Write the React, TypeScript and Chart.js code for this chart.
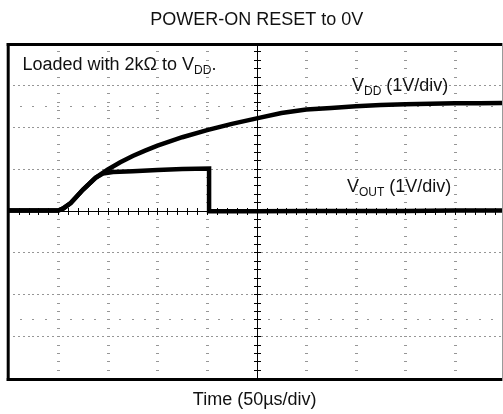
import { useEffect, useRef } from 'react';
import { Chart, registerables } from 'chart.js';

Chart.register(...registerables);

// ---- data (time in divisions of 50µs, voltages in divisions of 1V) ----
const vddTime = [0, 0.5, 1.0, 1.1, 1.25, 1.5, 1.75, 2.0, 2.25, 2.5, 2.75, 3.0, 3.5, 4.0, 4.5, 5.0, 5.5, 6.0, 6.5, 7.0, 7.5, 8.0, 8.5, 9.0, 9.5, 10.0];
const vddLevel = [0, 0, 0, 0.05, 0.18, 0.5, 0.78, 0.98, 1.15, 1.3, 1.43, 1.55, 1.75, 1.92, 2.07, 2.2, 2.33, 2.41, 2.45, 2.49, 2.52, 2.54, 2.55, 2.56, 2.56, 2.57];

const voutTime = [0, 0.5, 1.0, 1.1, 1.25, 1.5, 1.75, 1.9, 2.1, 2.5, 3.0, 3.5, 4.04, 4.04, 5.0, 6.0, 7.0, 8.0, 9.0, 10.0];
const voutLevel = [0, 0, 0, 0.05, 0.18, 0.5, 0.78, 0.88, 0.92, 0.94, 0.97, 0.99, 1.0, -0.02, -0.02, -0.01, -0.01, -0.01, 0, 0];

const xGridDivs = [1, 2, 3, 4, 6, 7, 8, 9];
const yGridDivs = [-3, -2, -1, 1, 2, 3];
const yMarkerDivs = [2.5, -2.6];
const xCenterDiv = 5;
const yCenterDiv = 0;

const titleText = 'POWER-ON RESET to 0V';
const xAxisText = 'Time (50µs/div)';
const noteText = ['Loaded with 2kΩ to V', 'DD', '.'];
const vddText = ['V', 'DD', ' (1V/div)'];
const voutText = ['V', 'OUT', ' (1V/div)'];

const FONT = '"Liberation Sans", Arial, sans-serif';

function drawSubText(ctx: CanvasRenderingContext2D, x: number, y: number, parts: string[]) {
  let cx = x;
  parts.forEach((p, i) => {
    const sub = i % 2 === 1;
    ctx.font = sub ? `12px ${FONT}` : `18px ${FONT}`;
    ctx.fillText(p, cx, sub ? y + 4 : y);
    cx += ctx.measureText(p).width;
  });
}

const scopePlugin = {
  id: 'scope',
  beforeDatasetsDraw(chart: any) {
    const { ctx, chartArea: a, scales } = chart;
    const x = scales.x;
    const y = scales.y;
    ctx.save();
    ctx.fillStyle = '#969696';
    // horizontal dotted grid lines
    for (const g of yGridDivs) {
      const py = Math.round(y.getPixelForValue(g));
      for (let i = 1; i < 100; i++) {
        const px = Math.round(x.getPixelForValue(i / 10));
        if (px > a.right) break;
        ctx.fillRect(px - 1, py, 2, 1);
      }
    }
    // sparse marker lines
    for (const g of yMarkerDivs) {
      const py = Math.round(y.getPixelForValue(g));
      for (let i = 1; i < 40; i++) {
        const px = Math.round(x.getPixelForValue(i / 4));
        if (px > a.right) break;
        ctx.fillRect(px - 1, py, 2, 1);
      }
    }
    // vertical dotted grid lines
    for (const g of xGridDivs) {
      const px = Math.round(x.getPixelForValue(g));
      for (let i = 1; i < 40; i++) {
        const py = Math.round(y.getPixelForValue(-4 + i / 5));
        ctx.fillRect(px - 1, py, 3, 1);
      }
    }
    // center crosshair with ticks
    ctx.fillStyle = '#000';
    const cx = Math.round(x.getPixelForValue(xCenterDiv));
    const cy = Math.round(y.getPixelForValue(yCenterDiv));
    ctx.fillRect(cx, a.top, 1, a.bottom - a.top);
    ctx.fillRect(a.left, cy, a.right - a.left, 1);
    for (let i = 1; i < 40; i++) {
      const py = Math.round(y.getPixelForValue(-4 + i / 5));
      ctx.fillRect(cx - 3, py, 7, 1);
    }
    for (let i = 1; i < 50; i++) {
      const px = Math.round(x.getPixelForValue(i / 5));
      if (px > a.right) break;
      ctx.fillRect(px, cy - 3, 1, 7);
    }
    ctx.restore();
  },
  afterDraw(chart: any) {
    const { ctx, chartArea: a, scales } = chart;
    const x = scales.x;
    ctx.save();
    // frame
    ctx.fillStyle = '#000';
    ctx.fillRect(a.left - 2, a.top, 3, a.bottom - a.top + 3);
    ctx.fillRect(a.left - 2, a.top, a.right - a.left + 2, 3);
    ctx.fillRect(a.left - 2, a.bottom, a.right - a.left + 2, 3);
    ctx.fillStyle = '#9a9a9a';
    ctx.fillRect(a.right, a.top, 1, a.bottom - a.top + 3);
    // texts
    ctx.fillStyle = '#111';
    ctx.textBaseline = 'alphabetic';
    ctx.textAlign = 'center';
    ctx.font = `18px ${FONT}`;
    const midX = x.getPixelForValue(5);
    ctx.fillText(titleText, midX, 25);
    ctx.fillText(xAxisText, midX - 2, 405);
    ctx.textAlign = 'left';
    drawSubText(ctx, 22.5, 70, noteText);
    drawSubText(ctx, 352, 91, vddText);
    drawSubText(ctx, 347, 192, voutText);
    ctx.restore();
  },
};

export default function App() {
  const ref = useRef<HTMLCanvasElement>(null);
  useEffect(() => {
    if (!ref.current) return;
    const chart = new Chart(ref.current, {
      type: 'line',
      data: {
        datasets: [
          {
            label: 'VDD',
            data: vddTime.map((t, i) => ({ x: t, y: vddLevel[i] })),
            borderColor: '#000',
            borderWidth: 4.5,
            pointRadius: 0,
            tension: 0,
          },
          {
            label: 'VOUT',
            data: voutTime.map((t, i) => ({ x: t, y: voutLevel[i] })),
            borderColor: '#000',
            borderWidth: 4.5,
            pointRadius: 0,
            tension: 0,
          },
        ],
      },
      options: {
        responsive: false,
        animation: false,
        devicePixelRatio: 1,
        layout: { padding: { left: 8.7, right: 1, top: 43, bottom: 36 } },
        scales: {
          x: { type: 'linear', min: 0, max: 9.946, display: false },
          y: { type: 'linear', min: -4, max: 4, display: false },
        },
        plugins: { legend: { display: false }, tooltip: { enabled: false } },
      },
      plugins: [scopePlugin],
    });
    return () => chart.destroy();
  }, []);
  return (
    <div style={{ position: 'fixed', left: 0, top: 0, width: 503, height: 414, background: '#fff' }}>
      <canvas ref={ref} width={503} height={414} />
    </div>
  );
}
